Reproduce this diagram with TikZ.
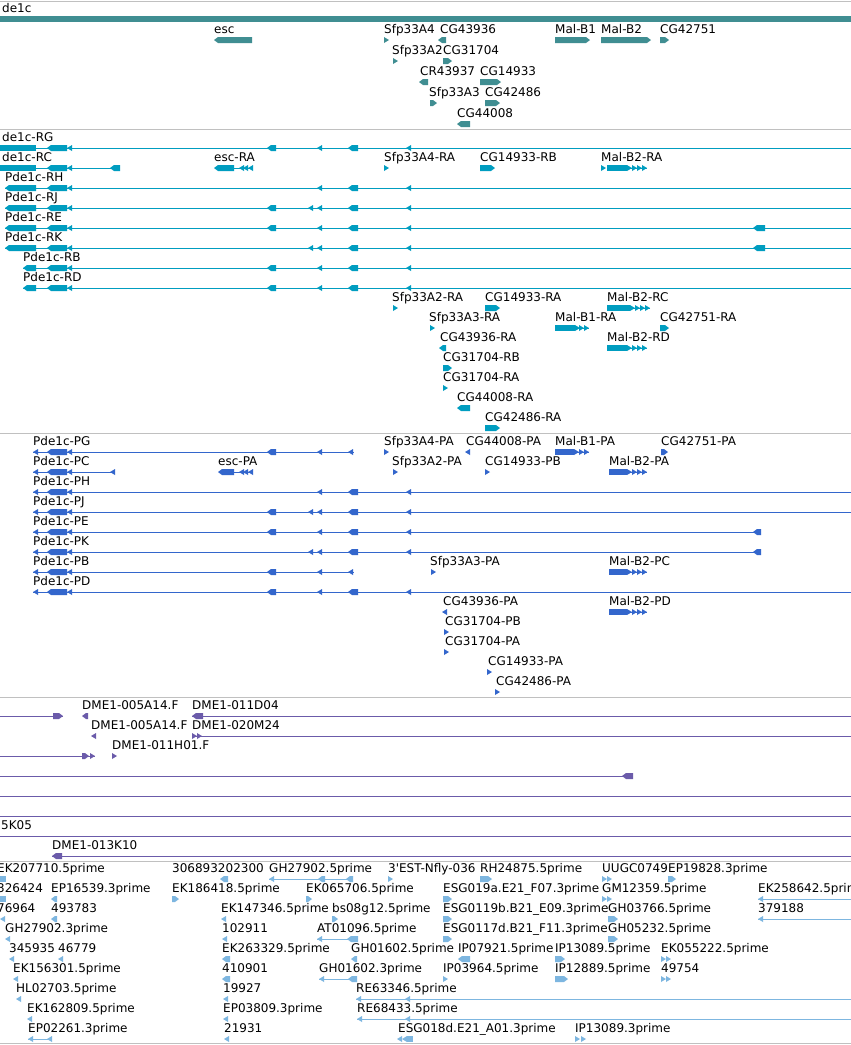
\documentclass[tikz,border=0pt]{standalone}
\usepackage{fontspec}
\newfontfamily\df{DejaVu Sans}
\definecolor{sepc}{RGB}{192,192,192}
\definecolor{gc}{RGB}{64,142,146}
\definecolor{tc}{RGB}{0,157,192}
\definecolor{pc}{RGB}{51,102,204}
\definecolor{bc}{RGB}{107,91,170}
\definecolor{ec}{RGB}{125,182,224}
\newcounter{lbc}
\tikzset{lbl/.style={anchor=base west, inner sep=0pt, font=\df\fontsize{12}{14}\selectfont},
  sepline/.style={sepc, line width=1pt}}
\newcommand{\lbl}[3]{\stepcounter{lbc}\node[lbl] (t\arabic{lbc}) at (#1,{#2-6.5}) {#3};}
\newcommand{\trk}[4]{\draw[#1,line width=1pt] (#2,#4) -- (#3,#4);}
\newcommand{\exL}[4]{\fill[#1] (#2,#4) -- ({#2+4},{#4-3}) -- (#3,{#4-3}) -- (#3,{#4+3}) -- ({#2+4},{#4+3}) -- cycle;}
\newcommand{\exR}[4]{\fill[#1] (#3,#4) -- ({#3-4},{#4-3}) -- (#2,{#4-3}) -- (#2,{#4+3}) -- ({#3-4},{#4+3}) -- cycle;}
\newcommand{\exB}[4]{\fill[#1] (#2,{#4-3}) rectangle (#3,{#4+3});}
\newcommand{\aL}[3]{\fill[#1] (#2,#3) -- ({#2+5},{#3-3}) -- ({#2+5},{#3+3}) -- cycle;}
\newcommand{\aR}[3]{\fill[#1] ({#2+5},#3) -- (#2,{#3-3}) -- (#2,{#3+3}) -- cycle;}
\newcommand{\arrsR}[3]{\foreach \k in {#2}{\aR{#1}{\k}{#3}}}
\newcommand{\arrsL}[3]{\foreach \k in {#2}{\aL{#1}{\k}{#3}}}
\newcommand{\pcore}[2]{\exL{#1}{47}{67}{#2}\aL{#1}{67}{#2}}
\begin{document}
\begin{tikzpicture}[x=1pt,y=-1pt]
\useasboundingbox (0,0) rectangle (851,1045);
\clip (0,0) rectangle (851,1045);
\fill[white] (0,0) rectangle (851,1045);
% separators
\foreach \yy in {1,129,433,697,861,1043}{\draw[sepline] (0,\yy) -- (851,\yy);}

% ---------------- gene track
\lbl{2}{19}{de1c}
\fill[gc] (0,16) rectangle (851,22);
\exL{gc}{214}{252}{40}\lbl{214}{40}{esc}
\aR{gc}{384}{40}\lbl{384}{40}{Sfp33A4}
\exL{gc}{438}{446}{40}\lbl{440}{40}{CG43936}
\exR{gc}{555}{590}{40}\lbl{555}{40}{Mal-B1}
\exR{gc}{601}{651}{40}\lbl{601}{40}{Mal-B2}
\exR{gc}{660}{669}{40}\lbl{660}{40}{CG42751}
\aR{gc}{393}{61}\lbl{392}{61}{Sfp33A2}
\exR{gc}{443}{452}{61}\lbl{443}{61}{CG31704}
\exL{gc}{419}{428}{82}\lbl{420}{82}{CR43937}
\exR{gc}{480}{501}{82}\lbl{480}{82}{CG14933}
\exR{gc}{430}{437}{103}\lbl{429}{103}{Sfp33A3}
\exR{gc}{485}{500}{103}\lbl{485}{103}{CG42486}
\exL{gc}{457}{470}{124}\lbl{457}{124}{CG44008}

% ---------------- transcripts
% RG
\trk{tc}{0}{851}{148}\exB{tc}{0}{36}{148}\pcore{tc}{148}
\exL{tc}{267}{276}{148}\aL{tc}{317}{148}\exL{tc}{348}{358}{148}\aL{tc}{406}{148}
\lbl{2}{148}{de1c-RG}
% RC
\trk{tc}{0}{120}{168}\exB{tc}{0}{36}{168}\pcore{tc}{168}\exL{tc}{110}{120}{168}
\lbl{2}{168}{de1c-RC}
\trk{tc}{234}{253}{168}\exL{tc}{214}{234}{168}\arrsL{tc}{239,243,248}{168}\lbl{214}{168}{esc-RA}
\aR{tc}{384}{168}\lbl{384}{168}{Sfp33A4-RA}
\exR{tc}{480}{495}{168}\lbl{480}{168}{CG14933-RB}
\aR{tc}{601}{168}\exB{tc}{607}{627}{168}\trk{tc}{627}{647}{168}\arrsR{tc}{627,632,637,642}{168}\lbl{601}{168}{Mal-B2-RA}
% RH
\trk{tc}{5}{851}{188}\exL{tc}{5}{36}{188}\pcore{tc}{188}
\aL{tc}{317}{188}\exL{tc}{348}{358}{188}\aL{tc}{406}{188}
\lbl{5}{188}{Pde1c-RH}
% RJ
\trk{tc}{5}{851}{208}\exL{tc}{5}{36}{208}\pcore{tc}{208}
\exL{tc}{267}{276}{208}\aL{tc}{308}{208}\aL{tc}{317}{208}\exL{tc}{348}{358}{208}\aL{tc}{406}{208}
\lbl{5}{208}{Pde1c-RJ}
% RE
\trk{tc}{5}{851}{228}\exL{tc}{5}{36}{228}\pcore{tc}{228}
\exL{tc}{267}{276}{228}\aL{tc}{317}{228}\exL{tc}{348}{358}{228}\aL{tc}{406}{228}\exL{tc}{753}{765}{228}
\lbl{5}{228}{Pde1c-RE}
% RK
\trk{tc}{5}{851}{248}\exL{tc}{5}{36}{248}\pcore{tc}{248}
\aL{tc}{308}{248}\aL{tc}{317}{248}\exL{tc}{348}{358}{248}\aL{tc}{406}{248}\exL{tc}{753}{765}{248}
\lbl{5}{248}{Pde1c-RK}
% RB
\trk{tc}{23}{851}{268}\exL{tc}{23}{36}{268}\pcore{tc}{268}
\exL{tc}{267}{276}{268}\aL{tc}{317}{268}\exL{tc}{348}{358}{268}\aL{tc}{406}{268}
\lbl{23}{268}{Pde1c-RB}
% RD
\trk{tc}{23}{851}{288}\exL{tc}{23}{36}{288}\pcore{tc}{288}
\exL{tc}{267}{276}{288}\aL{tc}{317}{288}\exL{tc}{348}{358}{288}\aL{tc}{406}{288}
\lbl{23}{288}{Pde1c-RD}
% small transcripts
\aR{tc}{393}{308}\lbl{392}{308}{Sfp33A2-RA}
\exR{tc}{485}{500}{308}\lbl{485}{308}{CG14933-RA}
\exB{tc}{607}{630}{308}\trk{tc}{630}{650}{308}\arrsR{tc}{630,635,640,645}{308}\lbl{607}{308}{Mal-B2-RC}
\aR{tc}{430}{328}\lbl{429}{328}{Sfp33A3-RA}
\exB{tc}{555}{575}{328}\trk{tc}{575}{589}{328}\arrsR{tc}{575,579,584}{328}\lbl{555}{328}{Mal-B1-RA}
\exR{tc}{660}{669}{328}\lbl{660}{328}{CG42751-RA}
\exL{tc}{439}{446}{348}\lbl{440}{348}{CG43936-RA}
\exB{tc}{607}{627}{348}\trk{tc}{627}{647}{348}\arrsR{tc}{627,632,637,642}{348}\lbl{607}{348}{Mal-B2-RD}
\exR{tc}{443}{452}{368}\lbl{443}{368}{CG31704-RB}
\aR{tc}{443}{388}\lbl{443}{388}{CG31704-RA}
\exL{tc}{457}{470}{408}\lbl{457}{408}{CG44008-RA}
\exR{tc}{485}{500}{428}\lbl{485}{428}{CG42486-RA}

% ---------------- polypeptides
% PG
\trk{pc}{33}{354}{452}\aL{pc}{33}{452}\pcore{pc}{452}
\exL{pc}{267}{276}{452}\aL{pc}{317}{452}\aL{pc}{348}{452}
\lbl{33}{452}{Pde1c-PG}
\aR{pc}{384}{452}\lbl{384}{452}{Sfp33A4-PA}
\aL{pc}{465}{452}\lbl{466}{452}{CG44008-PA}
\exB{pc}{555}{574}{452}\trk{pc}{574}{589}{452}\arrsR{pc}{574,579,584}{452}\lbl{555}{452}{Mal-B1-PA}
\exR{pc}{661}{668}{452}\lbl{661}{452}{CG42751-PA}
% PC
\trk{pc}{33}{114}{472}\aL{pc}{33}{472}\pcore{pc}{472}\aL{pc}{110}{472}
\lbl{33}{472}{Pde1c-PC}
\trk{pc}{234}{253}{472}\exL{pc}{218}{234}{472}\arrsL{pc}{239,243,248}{472}\lbl{218}{472}{esc-PA}
\aR{pc}{393}{472}\lbl{392}{472}{Sfp33A2-PA}
\aR{pc}{485}{472}\lbl{485}{472}{CG14933-PB}
\exB{pc}{609}{627}{472}\trk{pc}{627}{647}{472}\arrsR{pc}{627,632,637,642}{472}\lbl{609}{472}{Mal-B2-PA}
% PH
\trk{pc}{33}{851}{492}\aL{pc}{33}{492}\pcore{pc}{492}
\aL{pc}{317}{492}\exL{pc}{348}{358}{492}\aL{pc}{406}{492}
\lbl{33}{492}{Pde1c-PH}
% PJ
\trk{pc}{33}{851}{512}\aL{pc}{33}{512}\pcore{pc}{512}
\exL{pc}{267}{276}{512}\aL{pc}{308}{512}\aL{pc}{317}{512}\exL{pc}{348}{358}{512}\aL{pc}{406}{512}
\lbl{33}{512}{Pde1c-PJ}
% PE
\trk{pc}{33}{761}{532}\aL{pc}{33}{532}\pcore{pc}{532}
\exL{pc}{267}{276}{532}\aL{pc}{317}{532}\exL{pc}{348}{358}{532}\aL{pc}{406}{532}\exL{pc}{753}{761}{532}
\lbl{33}{532}{Pde1c-PE}
% PK
\trk{pc}{33}{761}{552}\aL{pc}{33}{552}\pcore{pc}{552}
\aL{pc}{308}{552}\aL{pc}{317}{552}\exL{pc}{348}{358}{552}\aL{pc}{406}{552}\exL{pc}{753}{761}{552}
\lbl{33}{552}{Pde1c-PK}
% PB
\trk{pc}{33}{354}{572}\aL{pc}{33}{572}\pcore{pc}{572}
\exL{pc}{267}{276}{572}\aL{pc}{317}{572}\aL{pc}{348}{572}
\lbl{33}{572}{Pde1c-PB}
\aR{pc}{431}{572}\lbl{430}{572}{Sfp33A3-PA}
\exB{pc}{609}{627}{572}\trk{pc}{627}{647}{572}\arrsR{pc}{627,632,637,642}{572}\lbl{609}{572}{Mal-B2-PC}
% PD
\trk{pc}{33}{851}{592}\aL{pc}{33}{592}\pcore{pc}{592}
\exL{pc}{267}{276}{592}\aL{pc}{317}{592}\exL{pc}{348}{358}{592}\aL{pc}{406}{592}
\lbl{33}{592}{Pde1c-PD}
% small polypeptides
\aL{pc}{442}{612}\lbl{443}{612}{CG43936-PA}
\exB{pc}{609}{627}{612}\trk{pc}{627}{647}{612}\arrsR{pc}{627,632,637,642}{612}\lbl{609}{612}{Mal-B2-PD}
\aR{pc}{444}{632}\lbl{445}{632}{CG31704-PB}
\aR{pc}{444}{652}\lbl{445}{652}{CG31704-PA}
\aR{pc}{487}{672}\lbl{488}{672}{CG14933-PA}
\aR{pc}{495}{692}\lbl{496}{692}{CG42486-PA}

% ---------------- BAC
\trk{bc}{0}{63}{716}\exR{bc}{53}{63}{716}
\exL{bc}{82}{88}{716}\lbl{82}{716}{DME1-005A14.F}
\trk{bc}{192}{851}{716}\exL{bc}{192}{203}{716}\lbl{192}{716}{DME1-011D04}
\aL{bc}{91}{736}\lbl{91}{736}{DME1-005A14.F}
\trk{bc}{192}{851}{736}\arrsR{bc}{192,197}{736}\lbl{192}{736}{DME1-020M24}
\trk{bc}{0}{95}{756}\exR{bc}{82}{89}{756}\aR{bc}{90}{756}
\aR{bc}{112}{756}\lbl{112}{756}{DME1-011H01.F}
\trk{bc}{0}{633}{776}\exL{bc}{622}{633}{776}
\trk{bc}{0}{851}{796}
\trk{bc}{0}{851}{816}
\trk{bc}{0}{851}{836}\lbl{1}{836}{5K05}
\trk{bc}{52}{851}{856}\exL{bc}{52}{62}{856}\lbl{52}{856}{DME1-013K10}

% ---------------- ESTs
% row 879
\exB{ec}{0}{6}{879}\lbl{-3}{879}{EK207710.5prime}
\exL{ec}{220}{228}{879}\lbl{172}{879}{306893202300}
\trk{ec}{269}{353}{879}\aL{ec}{269}{879}\exL{ec}{318}{325}{879}\exL{ec}{346}{353}{879}\lbl{269}{879}{GH27902.5prime}
\aR{ec}{388}{879}\lbl{388}{879}{3'EST-Nfly-036}
\exR{ec}{480}{492}{879}\lbl{480}{879}{RH24875.5prime}
\arrsR{ec}{602,607}{879}\lbl{602}{879}{UUGC0749}
\exR{ec}{668}{676}{879}\lbl{668}{879}{EP19828.3prime}
% row 899
\exB{ec}{0}{6}{899}\lbl{-3}{899}{326424}
\exL{ec}{51}{57}{899}\lbl{51}{899}{EP16539.3prime}
\exR{ec}{172}{179}{899}\lbl{172}{899}{EK186418.5prime}
\exR{ec}{306}{312}{899}\lbl{306}{899}{EK065706.5prime}
\exR{ec}{443}{452}{899}\lbl{443}{899}{ESG019a.E21\_F07.3prime}
\arrsR{ec}{602,607}{899}\lbl{602}{899}{GM12359.5prime}
\trk{ec}{758}{851}{899}\aL{ec}{758}{899}\lbl{758}{899}{EK258642.5prime}
% row 919
\aL{ec}{0}{919}\lbl{-3}{919}{76964}
\exL{ec}{51}{57}{919}\lbl{51}{919}{493783}
\aL{ec}{221}{919}\lbl{221}{919}{EK147346.5prime}
\exR{ec}{332}{338}{919}\lbl{332}{919}{bs08g12.5prime}
\exR{ec}{443}{452}{919}\lbl{443}{919}{ESG0119b.B21\_E09.3prime}
\exR{ec}{608}{618}{919}\lbl{608}{919}{GH03766.5prime}
\trk{ec}{758}{851}{919}\aL{ec}{758}{919}\lbl{758}{919}{379188}
% row 939
\aL{ec}{5}{939}\lbl{5}{939}{GH27902.3prime}
\aL{ec}{222}{939}\lbl{222}{939}{102911}
\trk{ec}{317}{358}{939}\aL{ec}{317}{939}\exL{ec}{347}{358}{939}\lbl{317}{939}{AT01096.5prime}
\exR{ec}{443}{452}{939}\lbl{443}{939}{ESG0117d.B21\_F11.3prime}
\exR{ec}{608}{618}{939}\lbl{608}{939}{GH05232.5prime}
% row 959
\aL{ec}{9}{959}\lbl{9}{959}{345935}
\aL{ec}{58}{959}\lbl{58}{959}{46779}
\exL{ec}{222}{230}{959}\lbl{222}{959}{EK263329.5prime}
\exL{ec}{351}{357}{959}\lbl{351}{959}{GH01602.5prime}
\exL{ec}{458}{470}{959}\lbl{458}{959}{IP07921.5prime}
\exR{ec}{555}{565}{959}\lbl{555}{959}{IP13089.5prime}
\arrsR{ec}{661,666}{959}\lbl{661}{959}{EK055222.5prime}
% row 979
\aL{ec}{13}{979}\lbl{13}{979}{EK156301.5prime}
\exL{ec}{222}{230}{979}\lbl{222}{979}{410901}
\trk{ec}{319}{357}{979}\aL{ec}{319}{979}\exL{ec}{348}{357}{979}\lbl{319}{979}{GH01602.3prime}
\aR{ec}{443}{979}\lbl{443}{979}{IP03964.5prime}
\exR{ec}{555}{568}{979}\lbl{555}{979}{IP12889.5prime}
\arrsR{ec}{661,666}{979}\lbl{661}{979}{49754}
% row 999
\aL{ec}{16}{999}\lbl{16}{999}{HL02703.5prime}
\aL{ec}{223}{999}\lbl{223}{999}{19927}
\trk{ec}{356}{851}{999}\aL{ec}{356}{999}\aL{ec}{405}{999}\lbl{356}{999}{RE63346.5prime}
% row 1019
\aL{ec}{27}{1019}\lbl{27}{1019}{EK162809.5prime}
\aL{ec}{223}{1019}\lbl{223}{1019}{EP03809.3prime}
\trk{ec}{357}{851}{1019}\aL{ec}{357}{1019}\aL{ec}{405}{1019}\lbl{357}{1019}{RE68433.5prime}
% row 1039
\trk{ec}{28}{52}{1039}\aL{ec}{28}{1039}\aL{ec}{47}{1039}\lbl{28}{1039}{EP02261.3prime}
\aL{ec}{224}{1039}\lbl{224}{1039}{21931}
\arrsL{ec}{397,402}{1039}\exB{ec}{407}{413}{1039}\lbl{398}{1039}{ESG018d.E21\_A01.3prime}
\arrsR{ec}{575,581}{1039}\lbl{575}{1039}{IP13089.3prime}
\end{tikzpicture}
\end{document}
